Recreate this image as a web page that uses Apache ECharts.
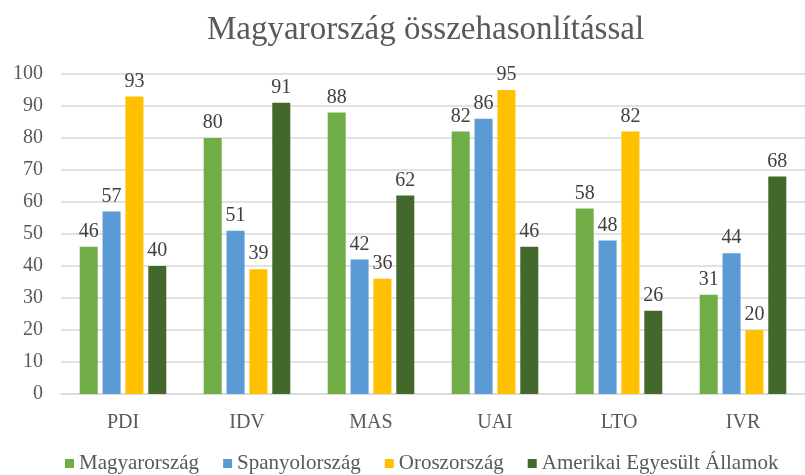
<!DOCTYPE html>
<html>
<head>
<meta charset="utf-8">
<script src="https://cdn.jsdelivr.net/npm/echarts@6/dist/echarts.min.js"></script>
<style>
  html, body { margin: 0; padding: 0; background: #fff; }
  #chart { width: 805px; height: 475px; }
</style>
</head>
<body>
<div id="chart"></div>
<script>
const categories = ["PDI", "IDV", "MAS", "UAI", "LTO", "IVR"];
const seriesNames = ["Magyarország", "Spanyolország", "Oroszország", "Amerikai Egyesült Államok"];
const hungary = [46, 80, 88, 82, 58, 31];
const spain = [57, 51, 42, 86, 48, 44];
const russia = [93, 39, 36, 95, 82, 20];
const usa = [40, 91, 62, 46, 26, 68];
const colors = ["#70AD47", "#5B9BD5", "#FFC000", "#43682B"];

const font = "Liberation Serif";

const buildBar = (name, data, color) => ({
  name,
  type: "bar",
  data,
  barWidth: 18,
  barGap: "27%",
  itemStyle: { color },
  label: {
    show: true,
    position: "top",
    distance: 5,
    color: "#404040",
    fontFamily: font,
    fontSize: 20
  },
  emphasis: { disabled: true }
});

const chart = echarts.init(document.getElementById("chart"));
chart.setOption({
  animation: false,
  title: {
    text: "Magyarország összehasonlítással",
    left: 202,
    top: 9,
    textStyle: {
      fontFamily: font,
      fontWeight: "normal",
      fontSize: 33,
      color: "#595959"
    }
  },
  legend: {
    top: 448,
    left: 60,
    itemWidth: 9,
    itemHeight: 9,
    itemGap: 24,
    icon: "rect",
    textStyle: { fontFamily: font, fontSize: 21, color: "#595959" }
  },
  grid: {
    left: 61,
    top: 74,
    width: 756,
    height: 320
  },
  xAxis: {
    type: "category",
    data: categories,
    axisTick: { show: false },
    axisLine: { lineStyle: { color: "#d9d9d9", width: 1.5 } },
    axisLabel: { fontFamily: font, fontSize: 20, color: "#595959", margin: 19 }
  },
  yAxis: {
    type: "value",
    min: 0,
    max: 100,
    interval: 10,
    axisLine: { show: false },
    axisTick: { show: false },
    axisLabel: { fontFamily: font, fontSize: 20, color: "#595959", margin: 18 },
    splitLine: { lineStyle: { color: "#d9d9d9", width: 1.5 } }
  },
  series: [
    buildBar(seriesNames[0], hungary, colors[0]),
    buildBar(seriesNames[1], spain, colors[1]),
    buildBar(seriesNames[2], russia, colors[2]),
    buildBar(seriesNames[3], usa, colors[3])
  ]
});
</script>
</body>
</html>
